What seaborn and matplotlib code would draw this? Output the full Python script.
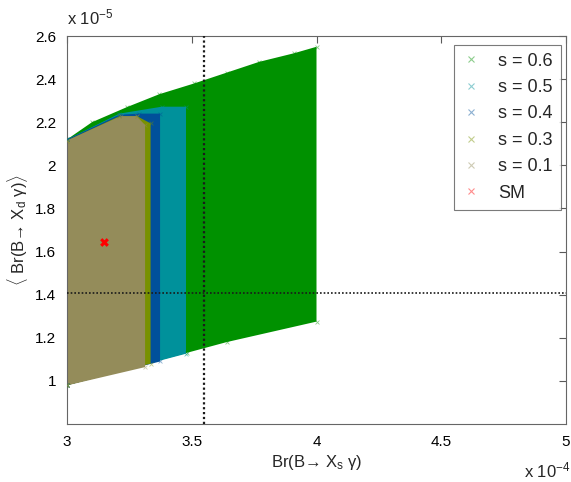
import matplotlib
matplotlib.use("Agg")
import matplotlib.pyplot as plt
import seaborn as sns
import pandas as pd
from matplotlib.lines import Line2D

# ---- data (x in units of 1e-4, y in units of 1e-5), outlines of scan regions ----
labels = ["s = 0.6", "s = 0.5", "s = 0.4", "s = 0.3", "s = 0.1"]
colors = ["#009100", "#00919b", "#00509a", "#789100", "#948c5a"]

x_s06 = [3.00, 3.00, 3.10, 3.24, 3.37, 3.51, 3.64, 3.77, 3.91, 4.00, 4.00, 3.64, 3.48, 3.00]
y_s06 = [0.98, 2.12, 2.20, 2.27, 2.33, 2.38, 2.43, 2.48, 2.52, 2.55, 1.275, 1.18, 1.13, 0.98]

x_s05 = [3.00, 3.00, 3.21, 3.38, 3.477, 3.477, 3.00]
y_s05 = [0.98, 2.12, 2.24, 2.272, 2.272, 1.126, 0.98]

x_s04 = [3.00, 3.00, 3.21, 3.29, 3.373, 3.373, 3.00]
y_s04 = [0.98, 2.12, 2.235, 2.24, 2.24, 1.09, 0.98]

x_s03 = [3.00, 3.00, 3.21, 3.28, 3.335, 3.335, 3.00]
y_s03 = [0.98, 2.115, 2.228, 2.228, 2.195, 1.08, 0.98]

x_s01 = [3.00, 3.00, 3.215, 3.279, 3.313, 3.313, 3.00]
y_s01 = [0.979, 2.115, 2.228, 2.228, 2.187, 1.064, 0.979]

sm_x = [3.15]
sm_y = [1.645]

exp_x_label = "x 10$^{-4}$"
exp_y_label = "x 10$^{-5}$"
vline_x = 3.55
hline_y = 1.41

xticks = [3, 3.5, 4, 4.5, 5]
yticks = [1, 1.2, 1.4, 1.6, 1.8, 2, 2.2, 2.4, 2.6]

regions = [(x_s06, y_s06), (x_s05, y_s05), (x_s04, y_s04), (x_s03, y_s03), (x_s01, y_s01)]

# ---- figure ----
sns.set_theme(style="white")
plt.rcParams["font.family"] = ["Liberation Sans", "DejaVu Sans"]
plt.rcParams["mathtext.fontset"] = "custom"
plt.rcParams["mathtext.rm"] = "Liberation Sans"
plt.rcParams["mathtext.it"] = "Liberation Sans:italic"

fig = plt.figure(figsize=(5.71, 4.82), dpi=100)
ax = fig.add_axes([67 / 571, 1 - 424 / 482, (566 - 67) / 571, (424 - 36) / 482])

for (xs, ys), c, lab in zip(regions, colors, labels):
    ax.fill(xs, ys, color=c, lw=0, zorder=2)
    df = pd.DataFrame({"x": xs, "y": ys})
    sns.scatterplot(data=df, x="x", y="y", marker="x", color=c, s=8, linewidth=0.6,
                    alpha=0.45, ax=ax, zorder=3, legend=False)

sns.scatterplot(x=sm_x, y=sm_y, marker="X", color="#ff0000", s=40, linewidth=0,
                ax=ax, zorder=5, legend=False)

ax.axvline(vline_x, ls=(0, (1, 1.2)), color="k", lw=1.6, zorder=4)
ax.axhline(hline_y, ls=(0, (1, 1.2)), color="k", lw=1.2, zorder=4)

ax.set_xlim(3, 5)
ax.set_ylim(0.8, 2.6)
ax.set_xticks(xticks)
ax.set_xticklabels([f"{t:g}" for t in xticks])
ax.set_yticks(yticks)
ax.set_yticklabels([f"{t:g}" for t in yticks])
ax.tick_params(direction="in", top=True, right=True, length=5, width=0.8,
               labelsize=11, colors="0.35", labelcolor="black", pad=8)
for sp in ax.spines.values():
    sp.set_color("0.4")
    sp.set_linewidth(0.8)

ax.set_xlabel("Br(B→ X$_{\\rm s}$ γ)", fontsize=12, labelpad=3)
ax.set_ylabel("$\\langle$ Br(B→ X$_{\\rm d}$ γ)$\\rangle$", fontsize=12)
ax.yaxis.set_label_coords(-0.074, 0.5)

fig.text(67 / 571, 1 - 24 / 482, exp_y_label, fontsize=12, ha="left", va="baseline")
fig.text(524 / 571, 1 - 477 / 482, exp_x_label, fontsize=12, ha="left", va="baseline")

handles = [Line2D([], [], marker="x", ls="", color=c, alpha=0.45, markersize=4, markeredgewidth=0.8)
           for c in colors]
handles.append(Line2D([], [], marker="x", ls="", color="#ff0000", alpha=0.45, markersize=4,
                      markeredgewidth=0.8))
leg = ax.legend(handles, labels + ["SM"], loc="upper right", bbox_to_anchor=(0.99, 0.978),
                fontsize=13, frameon=True, fancybox=False, edgecolor="0.35",
                handletextpad=1.0, labelspacing=0.52, borderpad=0.45, handlelength=1.0,
                borderaxespad=0.0)
leg.get_frame().set_linewidth(0.8)

fig.savefig("out.png", dpi=100)
